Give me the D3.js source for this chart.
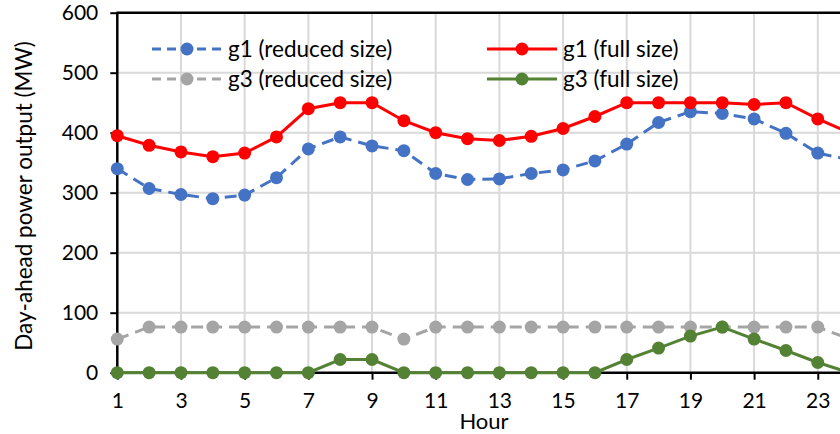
<!DOCTYPE html>
<html>
<head>
<meta charset="utf-8">
<script src="https://cdn.jsdelivr.net/npm/d3@7"></script>
<style>
  body { margin: 0; background: #fff; }
  svg { display: block; font-family: Lato, "Open Sans", sans-serif; }
</style>
</head>
<body>
<script>
// hourly day-ahead output
var hours = d3.range(1, 25);
var hourTicks = [1, 3, 5, 7, 9, 11, 13, 15, 17, 19, 21, 23];
var powerTicks = [0, 100, 200, 300, 400, 500, 600];

var g1Reduced = [340, 307, 297, 290, 296, 325, 373, 393, 378, 370, 332, 322,
                 323, 332, 338, 353, 381, 417, 435, 432, 423, 399, 366, 355];
var g1Full    = [395, 379, 368, 360, 366, 393, 440, 450, 450, 420, 400, 390,
                 387, 394, 407, 427, 450, 450, 450, 450, 447, 450, 423, 400];
var g3Reduced = [56, 76, 76, 76, 76, 76, 76, 76, 76, 56, 76, 76,
                 76, 76, 76, 76, 76, 76, 76, 76, 76, 76, 76, 56];
var g3Full    = [0, 0, 0, 0, 0, 0, 0, 22, 22, 0, 0, 0,
                 0, 0, 0, 0, 22, 41, 61, 76, 56, 37, 17, 0];

var series = [
  { name: "g1 (reduced size)", values: g1Reduced, color: "#4472C4", dash: "12,7" },
  { name: "g1 (full size)",    values: g1Full,    color: "#FF0000", dash: null },
  { name: "g3 (reduced size)", values: g3Reduced, color: "#A5A5A5", dash: "12,7" },
  { name: "g3 (full size)",    values: g3Full,    color: "#548235", dash: null }
];

var w = 840, h = 434;
var plotLeft = 117.3, plotTop = 12.7, plotBottom = 372.7;

var x = d3.scaleLinear().domain([1, 24]).range([plotLeft, plotLeft + 23 * 31.84]);
var y = d3.scaleLinear().domain([0, 600]).range([plotBottom, plotTop]);

var svg = d3.select("body").append("svg")
  .attr("width", w).attr("height", h);

// grid
svg.append("g").selectAll("line")
  .data(powerTicks.filter(function(d) { return d > 0 && d < 600; }))
  .enter().append("line")
  .attr("x1", plotLeft).attr("x2", w + 20)
  .attr("y1", function(d) { return y(d); }).attr("y2", function(d) { return y(d); })
  .attr("stroke", "#D9D9D9").attr("stroke-width", 2);

svg.append("g").selectAll("line")
  .data(hourTicks.slice(1))
  .enter().append("line")
  .attr("y1", plotTop).attr("y2", plotBottom)
  .attr("x1", function(d) { return x(d); }).attr("x2", function(d) { return x(d); })
  .attr("stroke", "#D9D9D9").attr("stroke-width", 2);

// top border
svg.append("line")
  .attr("x1", plotLeft).attr("x2", w + 20)
  .attr("y1", plotTop).attr("y2", plotTop)
  .attr("stroke", "#000").attr("stroke-width", 2.5);

// axes
var xAxis = d3.axisBottom(x).tickValues(hourTicks).tickSize(7).tickPadding(14);
var yAxis = d3.axisLeft(y).tickValues(powerTicks).tickSize(7).tickPadding(12);

var gx = svg.append("g").attr("transform", "translate(0," + plotBottom + ")").call(xAxis);
var gy = svg.append("g").attr("transform", "translate(" + plotLeft + ",0)").call(yAxis);

[gx, gy].forEach(function(g) {
  g.select(".domain").remove();
  g.selectAll(".tick line").attr("stroke", "#000").attr("stroke-width", 2);
  g.selectAll(".tick text").attr("fill", "#000")
    .style("font-size", "21px").style("font-family", "Lato, sans-serif");
});
gx.selectAll(".tick text").attr("dy", "0.7em");

svg.append("line")
  .attr("x1", plotLeft).attr("x2", w + 20)
  .attr("y1", plotBottom).attr("y2", plotBottom)
  .attr("stroke", "#000").attr("stroke-width", 2.5);
svg.append("line")
  .attr("x1", plotLeft).attr("x2", plotLeft)
  .attr("y1", plotTop - 1).attr("y2", plotBottom + 1)
  .attr("stroke", "#000").attr("stroke-width", 2.5);

// axis titles
svg.append("text")
  .attr("transform", "translate(32,196) rotate(-90)")
  .attr("text-anchor", "middle")
  .style("font-size", "22.5px")
  .text("Day-ahead power output (MW)");

svg.append("text")
  .attr("x", 484).attr("y", 429)
  .attr("text-anchor", "middle")
  .style("font-size", "22px")
  .text("Hour");

// lines + markers
var line = d3.line()
  .x(function(d, i) { return x(hours[i]); })
  .y(function(d) { return y(d); });

series.forEach(function(s) {
  var g = svg.append("g");
  g.append("path")
    .attr("d", line(s.values))
    .attr("fill", "none")
    .attr("stroke", s.color)
    .attr("stroke-width", 3)
    .attr("stroke-dasharray", s.dash);
  g.selectAll("circle")
    .data(s.values)
    .enter().append("circle")
    .attr("cx", function(d, i) { return x(hours[i]); })
    .attr("cy", function(d) { return y(d); })
    .attr("r", 6.5)
    .attr("fill", s.color);
});

// legend, two columns
var legendPos = [[152, 49], [487, 49], [152, 79], [487, 79]];
series.forEach(function(s, i) {
  var lg = svg.append("g")
    .attr("transform", "translate(" + legendPos[i][0] + "," + legendPos[i][1] + ")");
  lg.append("line")
    .attr("x1", 0).attr("x2", 70)
    .attr("stroke", s.color).attr("stroke-width", 3)
    .attr("stroke-dasharray", s.dash ? "9,6" : null);
  lg.append("circle").attr("cx", 35).attr("r", 6.5).attr("fill", s.color);
  lg.append("text")
    .attr("x", 76).attr("dy", "0.35em")
    .style("font-size", "22.5px")
    .text(s.name);
});
</script>
</body>
</html>
